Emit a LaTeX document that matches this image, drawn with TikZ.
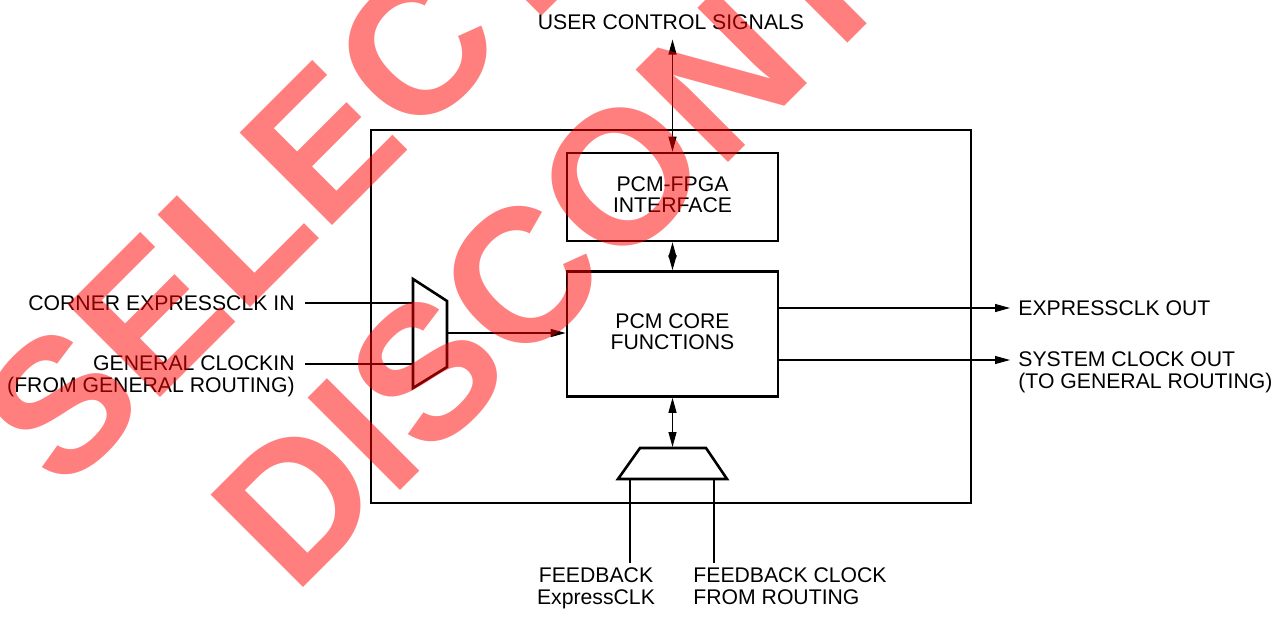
\documentclass[tikz,border=0pt]{standalone}
\usepackage{fontspec}
\setmainfont{Liberation Sans}
\usetikzlibrary{arrows.meta}
\newcommand{\dglbl}{\fontsize{10.6}{10.75}\selectfont}
\newcommand{\dgwm}{\fontsize{95}{95}\selectfont\bfseries}
\begin{document}
\begin{tikzpicture}[x=0.5pt,y=-0.5pt,
  thk/.style={line width=1.3pt, line join=miter},
  thn/.style={line width=0.55pt},
  box/.style={draw, thk, inner sep=0pt, text depth=2.4pt, align=center, font=\dglbl},
  lbl/.style={inner sep=0pt, font=\dglbl},
  arr/.style={thn, -{Triangle[length=7.5pt,width=4pt]}},
  darr/.style={thn, {Triangle[length=7.5pt,width=4pt]}-{Triangle[length=7.5pt,width=4pt]}},
  wm/.style={inner sep=0pt, rotate=45, text=red, text opacity=0.5, font=\dgwm}
]
\useasboundingbox (0,0) rectangle (1277,616);

% main blocks
\node[draw, thk, inner sep=0pt, minimum width=300pt, minimum height=186.5pt] (outer) at (671,316.5) {};
\node[box, minimum width=105.5pt, minimum height=44pt] (fpga) at (672.5,197) {PCM-FPGA\\INTERFACE};
\node[box, minimum width=105.5pt, minimum height=62.5pt] (core) at (672.5,334) {PCM CORE\\FUNCTIONS};

% labels
\node[lbl, anchor=base] (ucs) at (671,29.3) {USER CONTROL SIGNALS};
\node[lbl, anchor=base east] (cin) at (295,310) {CORNER EXPRESSCLK IN};
\node[lbl, anchor=north east, align=right] (gin) at (295,355.5) {GENERAL CLOCKIN\\(FROM GENERAL ROUTING)};
\node[lbl, anchor=base west] (eout) at (1018,315) {EXPRESSCLK OUT};
\node[lbl, anchor=north west, align=left] (sout) at (1018,351.5) {SYSTEM CLOCK OUT\\(TO GENERAL ROUTING)};
\node[lbl, anchor=north, align=center] (fbx) at (596,567.5) {FEEDBACK\\ExpressCLK};
\node[lbl, anchor=north west, align=left] (fbr) at (693,567.5) {FEEDBACK CLOCK\\FROM ROUTING};

% left multiplexer
\coordinate (m1) at (413,279);
\coordinate (m2) at (447,301);
\coordinate (m3) at (447,367);
\coordinate (m4) at (413,388);
\draw[thk] (m1)--(m2)--(m3)--(m4)--cycle;
\coordinate (cinE) at (305,303);
\coordinate (ginE) at (305,364);
\draw[thn] (cinE) -- (cinE -| m1);
\draw[thn] (ginE) -- (ginE -| m1);
\coordinate (mo) at (447,333);
\draw[arr] (mo) -- (mo -| core.west);

% outputs
\coordinate (eoT) at (1010,308);
\coordinate (soT) at (1010,360);
\draw[arr] (eoT -| core.east) -- (eoT);
\draw[arr] (soT -| core.east) -- (soT);

% vertical links
\coordinate (ut) at (672.5,39.5);
\draw[darr] (ut) -- (fpga.north);
\draw[darr] (fpga.south) -- (core.north);

% bottom multiplexer
\coordinate (b1) at (640,448);
\coordinate (b2) at (706,448);
\coordinate (b3) at (727,479);
\coordinate (b4) at (618,479);
\draw[thk] (b1)--(b2)--(b3)--(b4)--cycle;
\coordinate (bt) at (672.5,447);
\draw[darr] (core.south) -- (bt);
\coordinate (f1) at (630,563);
\coordinate (f2) at (714,563);
\draw[thn] (f1) -- (f1 |- b4);
\draw[thn] (f2) -- (f2 |- b4);

% watermark
\begin{scope}
\clip (0,0) rectangle (1277,616);
\node[wm, anchor=base west] (wm1) at (62,496) {SELECT};
\node[wm, anchor=base west] (wm2) at (294,597) {DISCONTINUED};
\end{scope}
\end{tikzpicture}
\end{document}
